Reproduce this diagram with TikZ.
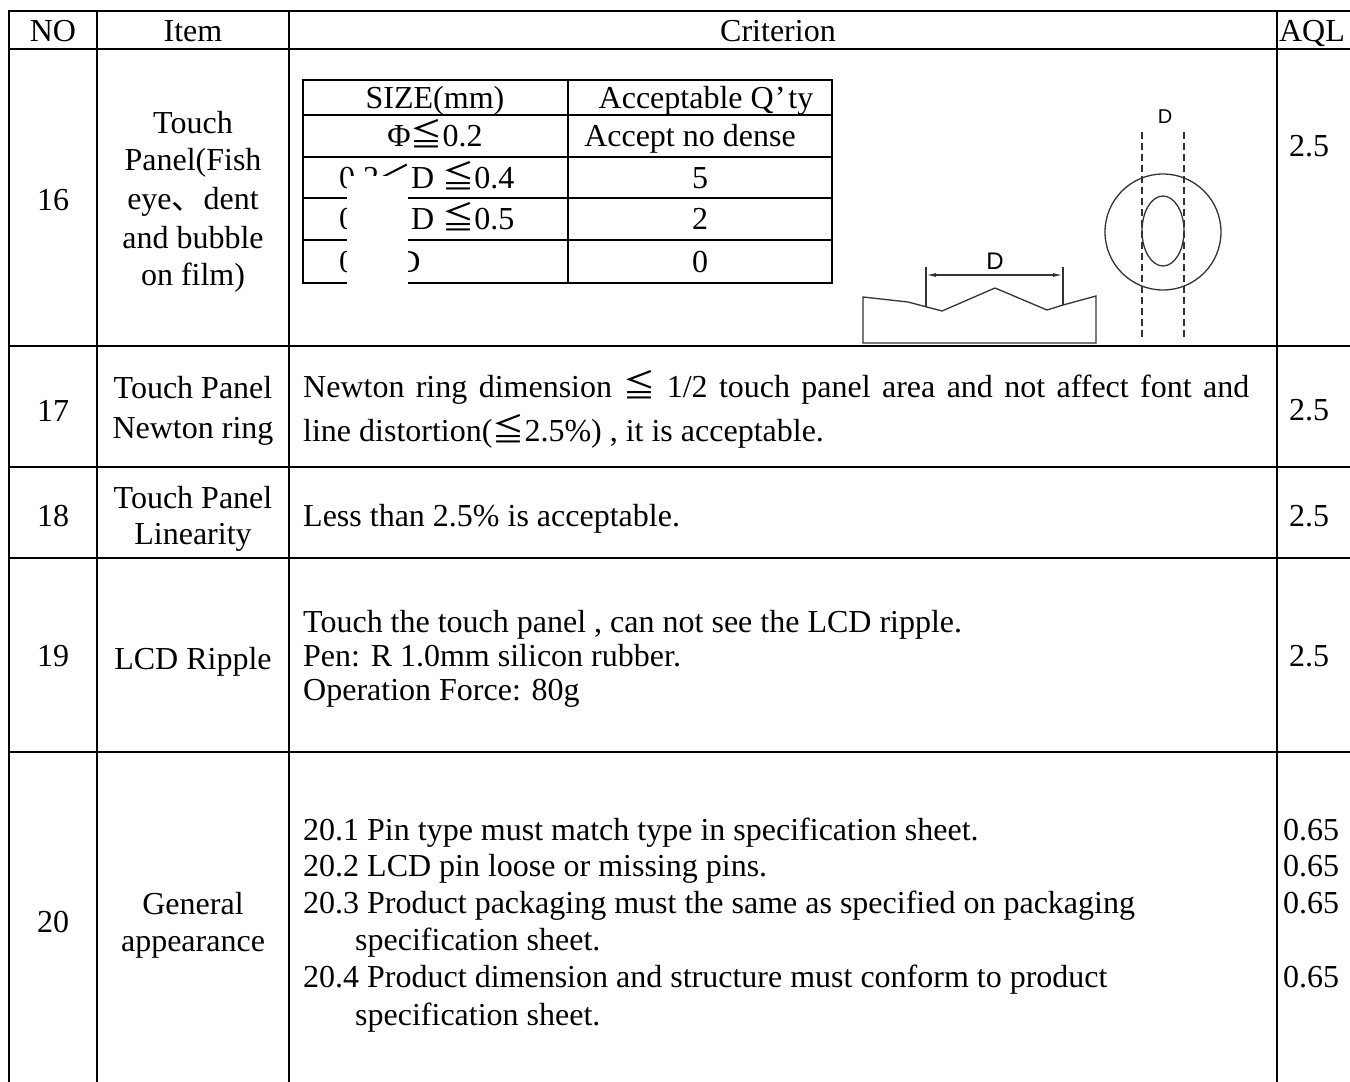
\documentclass[tikz,border=0pt]{standalone}
\usepackage{fontspec}
\setmainfont{Liberation Serif}
\newfontfamily\cjk{Noto Sans CJK SC}
\newfontfamily\arialf{Liberation Sans}
\usetikzlibrary{arrows.meta}
\begin{document}
\begin{tikzpicture}[x=1pt,y=-1pt,
  tl/.style={line width=2pt, line cap=rect},
  tx/.style={font=\fontsize{32}{36}\selectfont, inner sep=0pt, anchor=base},
  txl/.style={tx, anchor=base west},
  figl/.style={draw=black!80, line width=1.3pt},
  dlab/.style={font=\arialf\fontsize{24}{24}\selectfont, inner sep=0pt},
  dashl/.style={draw=black!80, line width=1.3pt, dash pattern=on 7pt off 4pt}]
\useasboundingbox (0,0) rectangle (1350,1082);
\fill[white] (0,0) rectangle (1350,1082);
% ---- main grid
\foreach \yy in {11,49,346,467,558,752} \draw[tl] (9,\yy) -- (1352,\yy);
\foreach \xx in {9,97,289,1277} \draw[tl] (\xx,11) -- (\xx,1084);
% ---- header
\node[tx] (hno) at (53,41) {NO};
\node[tx] (hitem) at (193,41) {Item};
\node[tx] (hcrit) at (778,41) {Criterion};
\node[tx] (haql) at (1312,41) {AQL};
% ---- row 16
\node[tx] (n16) at (53,210) {16};
\node[tx] (i16a) at (193,133) {Touch};
\node[tx] (i16b) at (193,170) {Panel(Fish};
\node[tx] (i16c) at (193,209) {eye{\cjk 、}dent};
\node[tx] (i16d) at (193,248) {and bubble};
\node[tx] (i16e) at (193,285) {on film)};
\node[tx] (a16) at (1309,156) {2.5};
% inner table
\draw[tl] (303,80) rectangle (832,283);
\foreach \yy in {115,157,198,240} \draw[tl] (303,\yy) -- (832,\yy);
\draw[tl] (568,80) -- (568,283);
\node[tx] (s1) at (435,108) {SIZE(mm)};
\node[tx] (q1) at (706,108) {Acceptable Q\kern1pt’\kern3pt ty};
\node[tx] (s2) at (435,146) {Φ{\cjk ≦}0.2};
\node[tx] (q2) at (690,146) {Accept no dense};
\node[txl] (s3) at (339,188) {0.2{\cjk ＜}D {\cjk ≦}0.4};
\node[tx] (q3) at (700,188) {5};
\node[txl] (s4) at (339,229) {0.4{\cjk ＜}D {\cjk ≦}0.5};
\node[tx] (q4) at (700,229) {2};
\node[txl] (s5) at (339,272) {0.5<D};
\node[tx] (q5) at (700,272) {0};
\fill[white] (347,176) rectangle (408,292);
% profile figure
\draw[figl] (863,297) -- (908,302) -- (942,311) -- (995,288) -- (1047,310) -- (1063,305) -- (1096,296) -- (1096,343) -- (863,343) -- cycle;
\draw[figl] (926,267) -- (926,307);
\draw[figl] (1063,267) -- (1063,305);
\coordinate (pl) at (926,275);
\coordinate (pr) at (1063,275);
\draw[figl, {Latex[length=10pt,width=4pt]}-{Latex[length=10pt,width=4pt]}] (pl) -- (pr);
\node[dlab] (pd) at (995,261) {D};
% ring figure
\draw[figl] (1163,232) circle [radius=58pt];
\draw[figl] (1163,231) ellipse [x radius=21pt, y radius=35pt];
\draw[dashl] (1142,132) -- (1142,340);
\draw[dashl] (1184,132) -- (1184,340);
\node[dlab, font=\arialf\fontsize{20}{20}\selectfont] (rd) at (1165,117) {D};
% ---- row 17
\node[tx] (n17) at (53,421) {17};
\node[tx] (i17a) at (193,398) {Touch Panel};
\node[tx] (i17b) at (193,438) {Newton ring};
\node[txl] (c17a) at (303,397) {\makebox[946pt][s]{Newton ring dimension {\cjk ≦} 1/2 touch panel area and not affect font and}};
\node[txl] (c17b) at (303,441) {line distortion({\cjk ≦}2.5\%) , it is acceptable.};
\node[tx] (a17) at (1309,420) {2.5};
% ---- row 18
\node[tx] (n18) at (53,526) {18};
\node[tx] (i18a) at (193,508) {Touch Panel};
\node[tx] (i18b) at (193,544) {Linearity};
\node[txl] (c18) at (303,526) {Less than 2.5\% is acceptable.};
\node[tx] (a18) at (1309,526) {2.5};
% ---- row 19
\node[tx] (n19) at (53,666) {19};
\node[tx] (i19) at (193,669) {LCD Ripple};
\node[txl] (c19a) at (303,632) {Touch the touch panel , can not see the LCD ripple.};
\node[txl] (c19b) at (303,666) {Pen: R 1.0mm silicon rubber.};
\node[txl] (c19c) at (303,700) {Operation Force: 80g};
\node[tx] (a19) at (1309,666) {2.5};
% ---- row 20
\node[tx] (n20) at (53,932) {20};
\node[tx] (i20a) at (193,914) {General};
\node[tx] (i20b) at (193,951) {appearance};
\node[txl] (c20a) at (303,840) {20.1 Pin type must match type in specification sheet.};
\node[txl] (c20b) at (303,876) {20.2 LCD pin loose or missing pins.};
\node[txl] (c20c) at (303,913) {20.3 Product packaging must the same as specified on packaging};
\node[txl] (c20d) at (355,950) {specification sheet.};
\node[txl] (c20e) at (303,987) {20.4 Product dimension and structure must conform to product};
\node[txl] (c20f) at (355,1025) {specification sheet.};
\node[tx] (a20a) at (1311,840) {0.65};
\node[tx] (a20b) at (1311,876) {0.65};
\node[tx] (a20c) at (1311,913) {0.65};
\node[tx] (a20d) at (1311,987) {0.65};
\end{tikzpicture}
\end{document}
